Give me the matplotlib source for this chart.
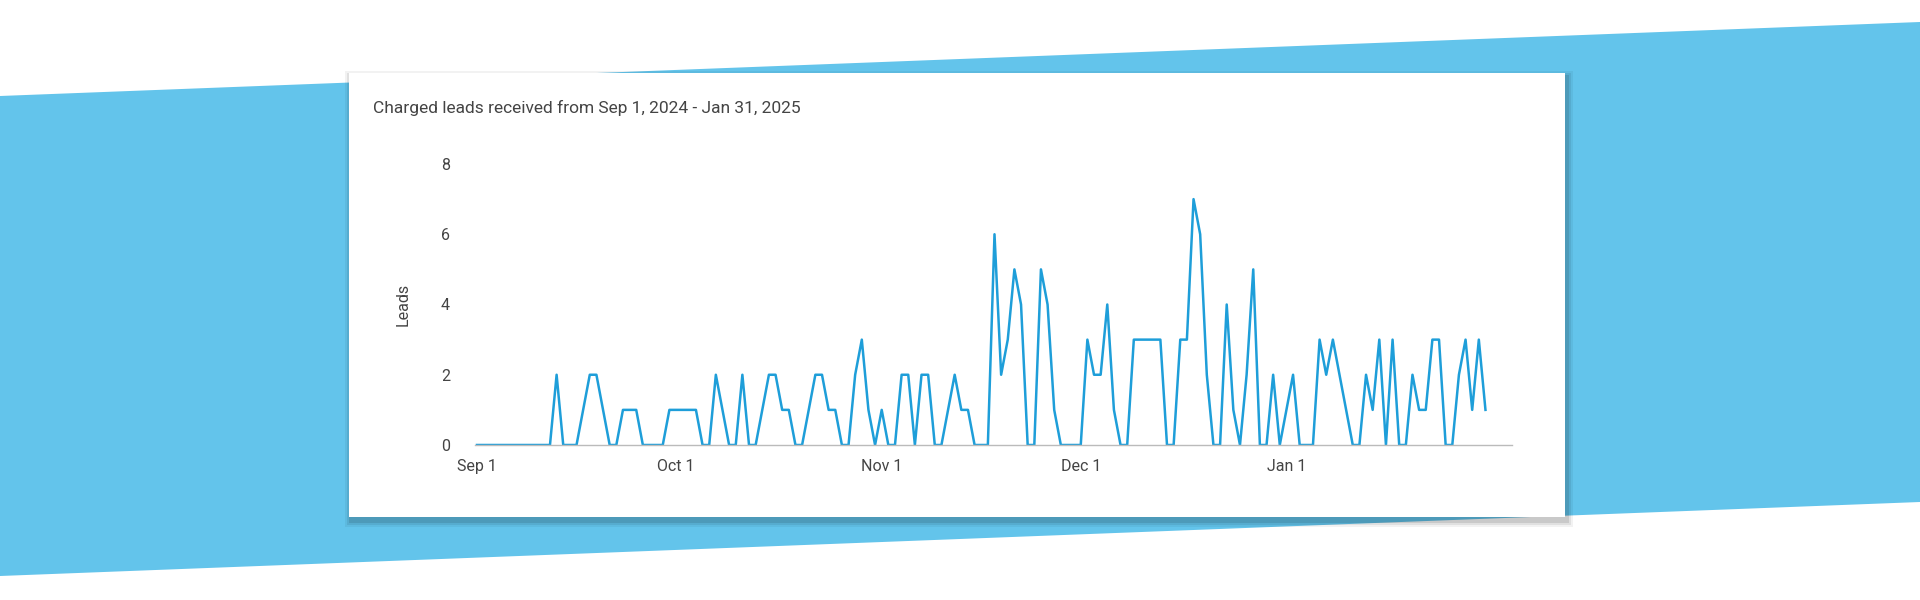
import matplotlib
matplotlib.use("Agg")

import matplotlib.pyplot as plt
import matplotlib.dates as mdates
from matplotlib.patches import Polygon, Rectangle
import numpy as np
import pandas as pd

plt.rcParams["font.family"] = ["Roboto", "DejaVu Sans"]

# daily charged leads, Sep 1 2024 .. Jan 31 2025
leads = [
    0, 0, 0, 0, 0, 0, 0, 0, 0, 0, 0, 0, 2, 0, 0, 0, 1, 2, 2, 1,
    0, 0, 1, 1, 1, 0, 0, 0, 0, 1, 1, 1, 1, 1, 0, 0, 2, 1, 0, 0,
    2, 0, 0, 1, 2, 2, 1, 1, 0, 0, 1, 2, 2, 1, 1, 0, 0, 2, 3, 1,
    0, 1, 0, 0, 2, 2, 0, 2, 2, 0, 0, 1, 2, 1, 1, 0, 0, 0, 6, 2,
    3, 5, 4, 0, 0, 5, 4, 1, 0, 0, 0, 0, 3, 2, 2, 4, 1, 0, 0, 3,
    3, 3, 3, 3, 0, 0, 3, 3, 7, 6, 2, 0, 0, 4, 1, 0, 2, 5, 0, 0,
    2, 0, 1, 2, 0, 0, 0, 3, 2, 3, 2, 1, 0, 0, 2, 1, 3, 0, 3, 0,
    0, 2, 1, 1, 3, 3, 0, 0, 2, 3, 1, 3, 1,
]
dates = pd.date_range("2024-09-01", periods=len(leads), freq="D")

title = "Charged leads received from Sep 1, 2024 - Jan 31, 2025"
tick_dates = ["2024-09-01", "2024-10-01", "2024-11-01", "2024-12-01", "2025-01-01"]
tick_labels = ["Sep 1", "Oct 1", "Nov 1", "Dec 1", "Jan 1"]

W, H = 1920, 600
fig = plt.figure(figsize=(W / 100, H / 100), dpi=100)
fig.patch.set_facecolor("white")

# blue slanted band
bg = fig.add_axes([0, 0, 1, 1])
bg.set_xlim(0, W)
bg.set_ylim(H, 0)
bg.axis("off")
bg.add_patch(Polygon([[0, 96], [W, 22], [W, 502], [0, 576]], closed=True,
                     facecolor="#63C4EB", edgecolor="none"))

# card with soft shadow
cx0, cy0, cx1, cy1 = 349, 73, 1565, 517
for i, a in enumerate([0.05, 0.07, 0.1]):
    off = 6 - 2 * i
    bg.add_patch(Rectangle((cx0 - off + 2, cy0 - off + 4), cx1 - cx0 + 2 * off, cy1 - cy0 + 2 * off,
                           facecolor="black", alpha=a, edgecolor="none"))
bg.add_patch(Rectangle((cx0, cy0), cx1 - cx0, cy1 - cy0, facecolor="white", edgecolor="none"))
bg.text(373, 108, title, fontsize=12.5, color="#444444", va="center", ha="left")

ax = fig.add_axes([475 / W, 1 - 445 / H, (1512 - 475) / W, (445 - 164) / H])
ax.set_facecolor("none")
ax.plot(dates, leads, color="#1E9ED9", linewidth=1.8)
ax.set_ylim(0, 8)
ax.set_yticks([0, 2, 4, 6, 8])
ax.set_xlim(dates[0] - pd.Timedelta(days=0.3), pd.Timestamp("2025-02-04"))
ax.set_xticks(pd.to_datetime(tick_dates))
ax.set_xticklabels(tick_labels)
for s in ["top", "right", "left"]:
    ax.spines[s].set_visible(False)
ax.spines["bottom"].set_color("#BBBBBB")
ax.spines["bottom"].set_linewidth(1)
ax.tick_params(axis="both", length=0, labelsize=11.5, colors="#444444", pad=10)
ax.tick_params(axis="y", pad=18)
ax.set_ylabel("Leads", fontsize=11.5, color="#444444", labelpad=22)

fig.savefig("out.png", dpi=100)
